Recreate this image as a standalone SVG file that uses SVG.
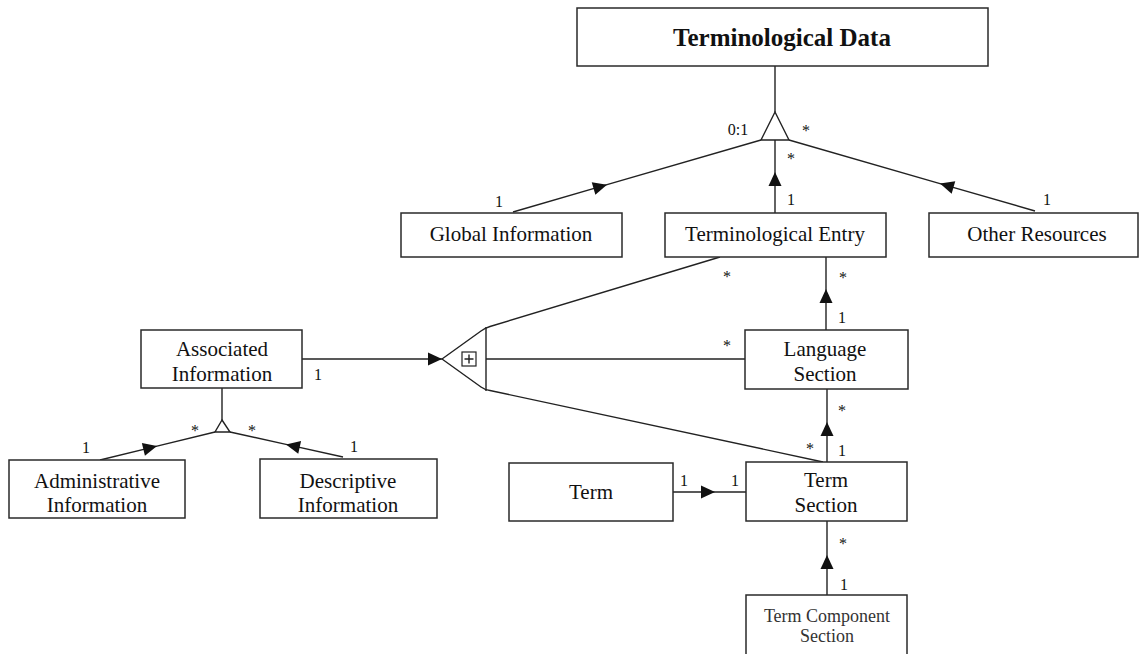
<svg xmlns="http://www.w3.org/2000/svg" width="1140" height="654" viewBox="0 0 1140 654">
<style>
.box{fill:#fff;stroke:#2a2a2a;stroke-width:1.5}
.t{font-family:"Liberation Serif","Times New Roman",serif;font-size:21px;fill:#111;text-anchor:middle}
.big{font-size:25px;font-weight:bold}
.sm{font-size:18px;fill:#333}
.m{font-family:"Liberation Serif","Times New Roman",serif;font-size:16px;fill:#111;text-anchor:middle}
.ln{fill:none;stroke:#222;stroke-width:1.4}
.am{marker-mid:url(#arr)}
.ae{marker-end:url(#arr)}
</style>
<defs>
<marker id="arr" markerUnits="userSpaceOnUse" markerWidth="16" markerHeight="14" refX="14" refY="6.5" orient="auto" overflow="visible">
<path d="M0,0 L14,6.5 L0,13 z" fill="#111"/>
</marker>
</defs>
<rect width="1140" height="654" fill="#fff"/>

<g id="connectors">
<path class="ln" d="M775,66 L775,112"/>
<polygon class="ln" fill="#fff" points="775,112 789,140 761,140"/>
<path class="ln am" d="M513,212 L607,184.7 L761,140"/>
<path class="ln am" d="M775,213 L775,172 L775,140"/>
<path class="ln am" d="M1035,211 L940,183.6 L789,140"/>
<path class="ln am" d="M826,330 L826,289 L826,257"/>
<path class="ln am" d="M827,462 L827,422 L827,389"/>
<path class="ln am" d="M827,595 L827,555 L827,521"/>
<path class="ln am" d="M673,492 L715,492 L746,492"/>
<path class="ln ae" d="M302,359 L442,359"/>
<path class="ln" d="M442,359 L481,331 Q485,328 490,326.5 L720,257"/>
<path class="ln" d="M442,359 L481,387 Q485,390 490,390.5 L823,462"/>
<path class="ln" d="M486,327 L486,391"/>
<path class="ln" d="M486,359 L745,359"/>
<rect x="462" y="352" width="14" height="14" fill="#fff" stroke="#222" stroke-width="1.2"/>
<path class="ln" stroke-width="1.2" d="M469,354.5 L469,363.5 M464.5,359 L473.5,359"/>
<path class="ln" d="M222,388 L222,420"/>
<polygon class="ln" fill="#fff" points="222,420 230,432 215,432"/>
<path class="ln am" d="M100,460 L157,446.1 L215,432"/>
<path class="ln am" d="M343,457 L286,444.4 L230,432"/>
</g>

<g id="labels">
<text class="m" x="738" y="135">0:1</text>
<text class="m" x="806" y="136">*</text>
<text class="m" x="791" y="164">*</text>
<text class="m" x="791" y="205">1</text>
<text class="m" x="499" y="207">1</text>
<text class="m" x="1047" y="205">1</text>
<text class="m" x="727" y="282">*</text>
<text class="m" x="843" y="283">*</text>
<text class="m" x="842" y="323">1</text>
<text class="m" x="727" y="351">*</text>
<text class="m" x="318" y="380">1</text>
<text class="m" x="842" y="416">*</text>
<text class="m" x="842" y="456">1</text>
<text class="m" x="810" y="454">*</text>
<text class="m" x="684" y="486">1</text>
<text class="m" x="735" y="486">1</text>
<text class="m" x="843" y="549">*</text>
<text class="m" x="844" y="590">1</text>
<text class="m" x="86" y="453">1</text>
<text class="m" x="195" y="436">*</text>
<text class="m" x="252" y="436">*</text>
<text class="m" x="354" y="452">1</text>
</g>

<g id="terminological-data">
<rect class="box" x="577" y="8" width="411" height="58"/>
<text class="t big" x="782" y="46">Terminological Data</text>
</g>
<g id="global-information">
<rect class="box" x="401" y="213" width="221" height="44"/>
<text class="t" x="511" y="241">Global Information</text>
</g>
<g id="terminological-entry">
<rect class="box" x="665" y="213" width="221" height="44"/>
<text class="t" x="775" y="241">Terminological Entry</text>
</g>
<g id="other-resources">
<rect class="box" x="929" y="213" width="209" height="44"/>
<text class="t" x="1037" y="241">Other Resources</text>
</g>
<g id="associated-information">
<rect class="box" x="141" y="330" width="161" height="58"/>
<text class="t" x="222" y="356">Associated</text>
<text class="t" x="222" y="381">Information</text>
</g>
<g id="language-section">
<rect class="box" x="745" y="330" width="163" height="59"/>
<text class="t" x="825" y="356">Language</text>
<text class="t" x="825" y="381">Section</text>
</g>
<g id="administrative-information">
<rect class="box" x="9" y="460" width="176" height="58"/>
<text class="t" x="97" y="488">Administrative</text>
<text class="t" x="97" y="512">Information</text>
</g>
<g id="descriptive-information">
<rect class="box" x="260" y="459" width="177" height="59"/>
<text class="t" x="348" y="488">Descriptive</text>
<text class="t" x="348" y="512">Information</text>
</g>
<g id="term">
<rect class="box" x="509" y="463" width="164" height="58"/>
<text class="t" x="591" y="499">Term</text>
</g>
<g id="term-section">
<rect class="box" x="746" y="462" width="161" height="59"/>
<text class="t" x="826" y="487">Term</text>
<text class="t" x="826" y="512">Section</text>
</g>
<g id="term-component-section">
<rect class="box" x="746" y="595" width="161" height="70"/>
<text class="t sm" x="827" y="622">Term Component</text>
<text class="t sm" x="827" y="642">Section</text>
</g>
</svg>
